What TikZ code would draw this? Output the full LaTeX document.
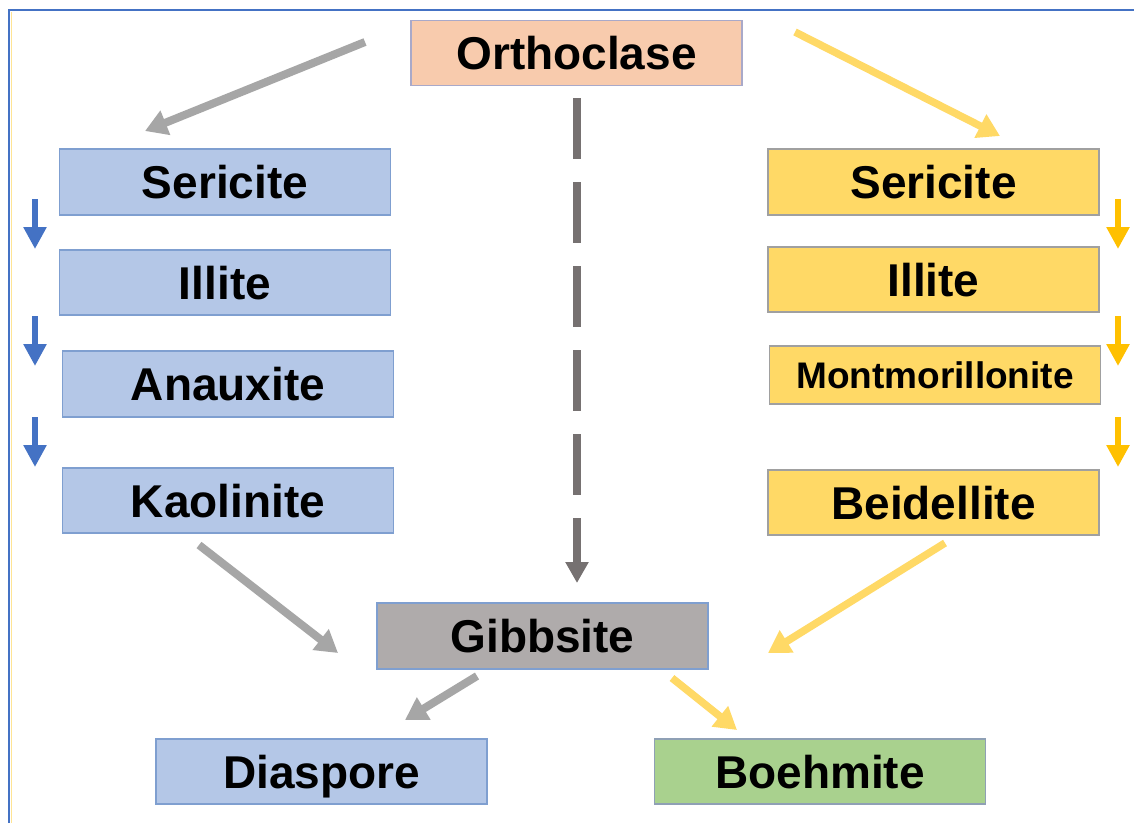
\documentclass[tikz,border=0pt]{standalone}
\usepackage{fontspec}
\setmainfont{Liberation Sans}
\usetikzlibrary{arrows.meta}
\definecolor{bluebox}{HTML}{B4C7E7}
\definecolor{blueedge}{HTML}{7F9FD0}
\definecolor{yelbox}{HTML}{FFD966}
\definecolor{yeledge}{HTML}{A0A0A0}
\definecolor{peach}{HTML}{F8CBAD}
\definecolor{peachedge}{HTML}{A9A9C9}
\definecolor{gibfill}{HTML}{AFABAB}
\definecolor{greenbox}{HTML}{A9D18E}
\definecolor{greenedge}{HTML}{8FA0B5}
\definecolor{grayarrow}{HTML}{A6A6A6}
\definecolor{yelarrow}{HTML}{FFD966}
\definecolor{darkarrow}{HTML}{767171}
\definecolor{bluearrow}{HTML}{4472C4}
\definecolor{orangearrow}{HTML}{FFC000}
\definecolor{frameblue}{HTML}{4472C4}
\begin{document}
\begin{tikzpicture}[x=1pt,y=-1pt,
  box/.style={draw, line width=1.2pt, inner sep=0pt, minimum width=331pt, minimum height=65pt,
    font=\bfseries\fontsize{46}{46}\selectfont, text height=33pt, text depth=0pt},
  bluenode/.style={box, fill=bluebox, draw=blueedge},
  yelnode/.style={box, fill=yelbox, draw=yeledge},
  grayarr/.style={draw=grayarrow, line width=8pt, -{Triangle[length=22pt,width=25pt]}},
  yelarr/.style={draw=yelarrow, line width=7.5pt, -{Triangle[length=22pt,width=25pt]}},
  bluestep/.style={draw=bluearrow, line width=6pt, -{Triangle[length=22pt,width=22pt]}},
  orangestep/.style={draw=orangearrow, line width=6pt, -{Triangle[length=22pt,width=22pt]}},
  dasharr/.style={draw=darkarrow, line width=8pt, dash pattern=on 61pt off 23pt, -{Triangle[length=21pt,width=22pt]}}
]
\useasboundingbox (0,0) rectangle (1134,823);
\fill[white] (0,0) rectangle (1134,823);
% frame
\draw[frameblue, line width=2pt] (9,823) -- (9,10) -- (1134,10);
\draw[yelbox!70!white, line width=0.8pt] (11.5,823) -- (11.5,12);

% nodes
\node[box, fill=peach, draw=peachedge] (orth) at (576.5,53) {Orthoclase};
\node[bluenode, minimum height=66pt] (lser) at (225,182) {Sericite};
\node[bluenode] (lill) at (225,282.5) {Illite};
\node[bluenode, minimum height=66pt] (anx) at (228,384) {Anauxite};
\node[bluenode] (kao) at (228,500.5) {Kaolinite};
\node[yelnode, minimum height=66pt] (rser) at (933.5,182) {Sericite};
\node[yelnode] (rill) at (933.5,279.5) {Illite};
\node[yelnode, minimum height=58pt, font=\bfseries\fontsize{37}{37}\selectfont, text height=26.5pt] (mont) at (935,375) {Montmorillonite};
\node[yelnode] (bei) at (933.5,502.5) {Beidellite};
\node[box, fill=gibfill, draw=blueedge, minimum height=66pt] (gib) at (542.5,636) {Gibbsite};
\node[bluenode] (dia) at (321.5,771.5) {Diaspore};
\node[box, fill=greenbox, draw=greenedge] (boe) at (820,771.5) {Boehmite};

% connector end points
\coordinate (ga1) at (365,42);   \coordinate (ga2) at (145,131);
\coordinate (ya1) at (795,32);   \coordinate (ya2) at (1000,136);
\coordinate (da1) at (577,98);   \coordinate (da2) at (577,583);
\coordinate (b1s) at (35,199);   \coordinate (b1e) at (35,249);
\coordinate (b2s) at (35,316);   \coordinate (b2e) at (35,366);
\coordinate (b3s) at (35,417);   \coordinate (b3e) at (35,467);
\coordinate (o1s) at (1118,199); \coordinate (o1e) at (1118,249);
\coordinate (o2s) at (1118,316); \coordinate (o2e) at (1118,366);
\coordinate (o3s) at (1118,417); \coordinate (o3e) at (1118,467);
\coordinate (gk1) at (199,545);  \coordinate (gk2) at (338,653);
\coordinate (yb1) at (945,543);  \coordinate (yb2) at (768,653);
\coordinate (gd1) at (477,676);  \coordinate (gd2) at (405,720);
\coordinate (yg1) at (672,678);  \coordinate (yg2) at (737,730);

% connectors
\draw[grayarr] (ga1) -- (ga2);
\draw[yelarr] (ya1) -- (ya2);
\draw[dasharr] (da1) -- (da2);
\draw[bluestep] (b1s) -- (b1e);
\draw[bluestep] (b2s) -- (b2e);
\draw[bluestep] (b3s) -- (b3e);
\draw[orangestep] (o1s) -- (o1e);
\draw[orangestep] (o2s) -- (o2e);
\draw[orangestep] (o3s) -- (o3e);
\draw[grayarr] (gk1) -- (gk2);
\draw[yelarr] (yb1) -- (yb2);
\draw[grayarr] (gd1) -- (gd2);
\draw[yelarr] (yg1) -- (yg2);
\end{tikzpicture}
\end{document}
